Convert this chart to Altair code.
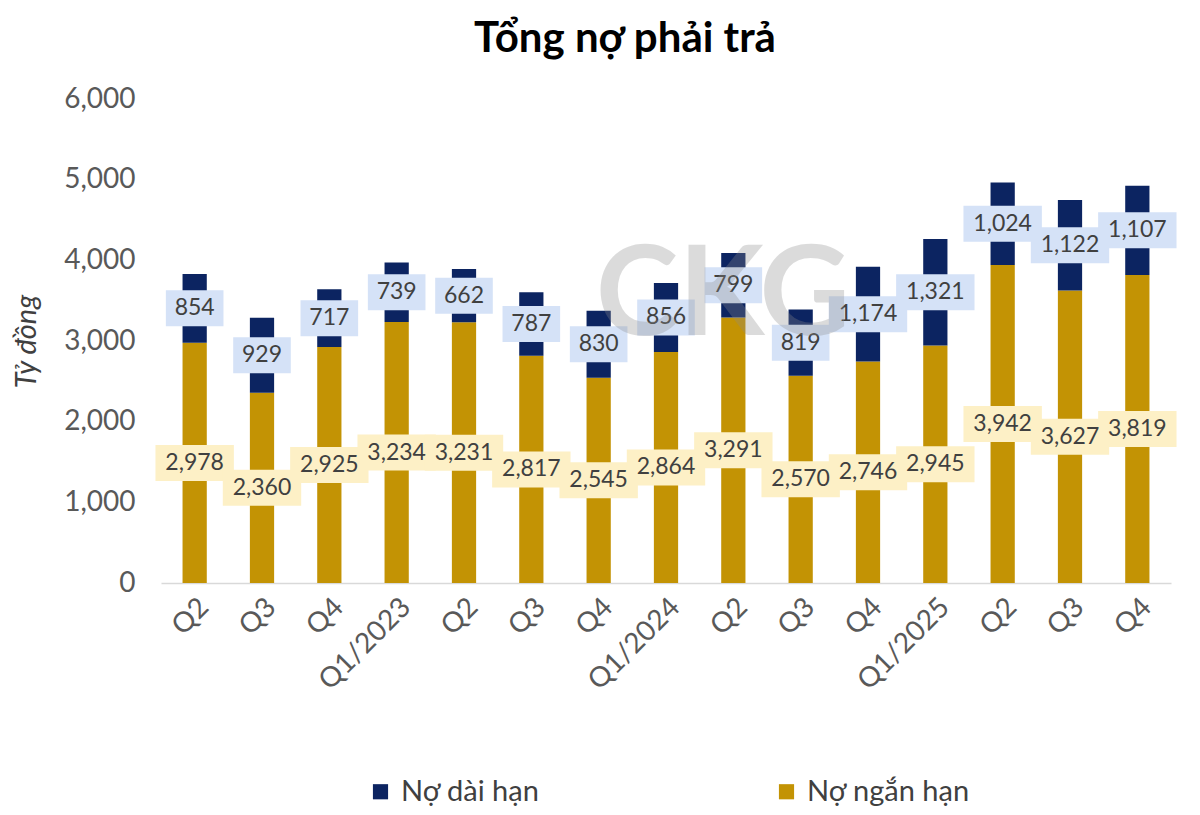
import altair as alt
import pandas as pd

quarters = ["Q2", "Q3", "Q4", "Q1/2023", "Q2 ", "Q3 ", "Q4 ", "Q1/2024", "Q2  ", "Q3  ", "Q4  ", "Q1/2025", "Q2   ", "Q3   ", "Q4   "]
short_term = [2978, 2360, 2925, 3234, 3231, 2817, 2545, 2864, 3291, 2570, 2746, 2945, 3942, 3627, 3819]
long_term = [854, 929, 717, 739, 662, 787, 830, 856, 799, 819, 1174, 1321, 1024, 1122, 1107]

S_LONG = "Nợ dài hạn"
S_SHORT = "Nợ ngắn hạn"
NAVY = "#0C2461"
GOLD = "#C39304"

rows = []
for q, s, l in zip(quarters, short_term, long_term):
    rows.append({"q": q, "series": S_SHORT, "y0": 0, "y1": s, "mid": s / 2, "val": s})
    rows.append({"q": q, "series": S_LONG, "y0": s, "y1": s + l, "mid": s + l / 2, "val": l})
df = pd.DataFrame(rows)
df["label"] = df["val"].map(lambda v: f"{v:,}")
short_box = "M-0.72,-0.45 L0.72,-0.45 L0.72,0.45 L-0.72,0.45 Z"
long_box = "M-0.98,-0.45 L0.98,-0.45 L0.98,0.45 L-0.98,0.45 Z"
df["box"] = df["label"].map(lambda t: long_box if len(t) > 3 else short_box)
df["boxcolor"] = df["series"].map({S_SHORT: "#FDF0C6", S_LONG: "#D5E2F7"})

FONT = "Lato"

x_enc = alt.X("q:N", sort=quarters, title=None,
              scale=alt.Scale(paddingInner=0.64, paddingOuter=0.32),
              axis=alt.Axis(labelAngle=-45, labelFontSize=28, labelColor="#595959",
                            labelFont=FONT, ticks=False, domainColor="#D9D9D9",
                            domainWidth=1.5, labelPadding=10))

bars = alt.Chart(df).mark_bar().encode(
    x=x_enc,
    y=alt.Y("y0:Q", title="Tỷ đồng",
            scale=alt.Scale(domain=[0, 6000], nice=False),
            axis=alt.Axis(values=[0, 1000, 2000, 3000, 4000, 5000, 6000], format=",d",
                          grid=False, domain=False, ticks=False,
                          labelFontSize=28, labelColor="#595959", labelFont=FONT,
                          labelPadding=26, titleFont=FONT, titleFontSize=29,
                          titleFontStyle="italic", titleFontWeight="normal",
                          titleColor="#404040", titlePadding=22)),
    y2="y1:Q",
    color=alt.Color("series:N",
                    scale=alt.Scale(domain=[S_LONG, S_SHORT], range=[NAVY, GOLD]),
                    legend=alt.Legend(title=None, orient="none", direction="horizontal",
                                      legendX=205, legendY=678,
                                      symbolType="square", symbolSize=230,
                                      labelFontSize=29, labelColor="#404040",
                                      labelFont=FONT, columnPadding=232, labelLimit=400,
                                      symbolStrokeWidth=0, labelOffset=6)),
)

boxes = alt.Chart(df).mark_point(filled=True, opacity=1, strokeWidth=0).encode(
    x=alt.X("q:N", sort=quarters),
    y=alt.Y("mid:Q"),
    shape=alt.Shape("box:N", scale=None),
    color=alt.Color("boxcolor:N", scale=None),
    size=alt.value(6400),
)

labels = alt.Chart(df).mark_text(fontSize=23, font=FONT, color="#404040", baseline="middle").encode(
    x=alt.X("q:N", sort=quarters),
    y=alt.Y("mid:Q"),
    text="label:N",
)

watermark = alt.Chart(pd.DataFrame({"t": ["CKG"]})).mark_text(
    fontSize=125, font=FONT, fontWeight="bold", color="#8c8c8c", opacity=0.3,
    align="center", baseline="middle"
).encode(x=alt.value(562), y=alt.value(198), text="t:N")

chart = alt.layer(bars, boxes, labels, watermark).properties(
    width=1010, height=484,
    background="white",
    autosize=alt.AutoSizeParams(type="none"),
    padding={"left": 161, "top": 99, "right": 29, "bottom": 232},
    title=alt.TitleParams("Tổng nợ phải trả", fontSize=42, font=FONT, fontWeight="bold",
                          color="#000000", anchor="middle", dx=-41, offset=24),
).configure_view(strokeWidth=0, stroke=None)

chart.save("out.html", embed_options={"renderer": "svg", "actions": False})
